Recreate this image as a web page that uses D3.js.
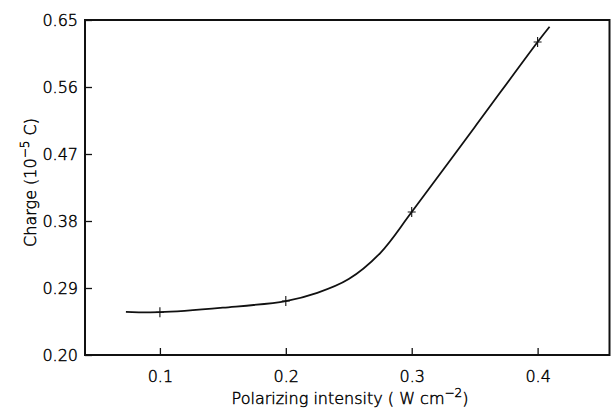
<!DOCTYPE html>
<html>
<head>
<meta charset="utf-8">
<script src="https://cdn.jsdelivr.net/npm/d3@7"></script>
<style>
  body { margin: 0; background: #fff; }
  text { font-family: 'DejaVu Sans', sans-serif; font-weight: 300; fill: #000; stroke: #000; stroke-width: 0.45px; }
</style>
</head>
<body>
<div class="canvas"></div>
<script>
// curve
const curveX = [0.073, 0.1, 0.15, 0.2, 0.225, 0.25, 0.275, 0.3, 0.35, 0.4, 0.4095]
const curveY = [0.258, 0.2575, 0.2636, 0.2725, 0.2835, 0.302, 0.337, 0.392, 0.506, 0.6205, 0.641]
// measured points (crosses)
const pointX = [0.1, 0.2, 0.3, 0.4]
const pointY = [0.2575, 0.2725, 0.392, 0.6205]
const xTicks = [0.1, 0.2, 0.3, 0.4]
const yTicks = [0.20, 0.29, 0.38, 0.47, 0.56, 0.65]

const width = 613
const height = 410
const margin = { top: 20, right: 3, bottom: 55, left: 85 }
const graphWidth = width - margin.left - margin.right
const graphHeight = height - margin.top - margin.bottom

const svg = d3.select('.canvas').append('svg')
  .attr('width', width)
  .attr('height', height)

const graph = svg.append('g')
  .attr('transform', `translate(${margin.left}, ${margin.top})`)

const x = d3.scaleLinear()
  .domain([0.0405, 0.4575])
  .range([0, graphWidth])

const y = d3.scaleLinear()
  .domain([0.20, 0.65])
  .range([graphHeight, 0])

// axes with inward ticks
const xAxis = d3.axisBottom(x)
  .tickValues(xTicks)
  .tickSize(-7)
  .tickPadding(16)
  .tickFormat(d3.format('.1f'))

const yAxis = d3.axisLeft(y)
  .tickValues(yTicks)
  .tickSize(-7)
  .tickPadding(7)
  .tickFormat(d3.format('.2f'))

const xAxisGroup = graph.append('g')
  .attr('transform', `translate(0, ${graphHeight})`)
  .call(xAxis)
const yAxisGroup = graph.append('g').call(yAxis)

;[xAxisGroup, yAxisGroup].forEach(g => {
  g.select('.domain').remove()
  g.selectAll('line').attr('stroke', '#111').attr('stroke-width', 1.3)
  g.selectAll('text')
    .attr('font-size', 16)
    .style('font-family', "'DejaVu Sans', sans-serif")
    .style('font-weight', 300)
    .style('stroke', '#000')
    .style('stroke-width', '0.45px')
})
yAxisGroup.selectAll('text').attr('dy', '0.36em')

// frame
graph.append('rect')
  .attr('width', graphWidth - 0.5)
  .attr('height', graphHeight)
  .attr('fill', 'none')
  .attr('stroke', '#111')
  .attr('stroke-width', 2)

// curve
const line = d3.line()
  .x(d => x(d[0]))
  .y(d => y(d[1]))
  .curve(d3.curveCatmullRom.alpha(0.5))

graph.append('path')
  .datum(d3.zip(curveX, curveY))
  .attr('d', line)
  .attr('fill', 'none')
  .attr('stroke', '#111')
  .attr('stroke-width', 1.8)

// crosses
graph.selectAll('.cross')
  .data(d3.zip(pointX, pointY))
  .enter().append('path')
  .attr('class', 'cross')
  .attr('transform', d => `translate(${x(d[0])}, ${y(d[1])})`)
  .attr('d', 'M-4,0H4M0,-5V5')
  .attr('stroke', '#111')
  .attr('stroke-width', 1.1)

// axis titles
const xt = svg.append('text')
  .attr('x', 350)
  .attr('y', 404)
  .attr('text-anchor', 'middle')
  .attr('font-size', 16)
xt.append('tspan').text('Polarizing intensity ( W cm')
xt.append('tspan').attr('dy', -7).attr('font-size', 12).text('−2')
xt.append('tspan').attr('dy', 7).text(')')

const yt = svg.append('text')
  .attr('transform', `translate(36, ${margin.top + graphHeight / 2 - 5}) rotate(-90)`)
  .attr('text-anchor', 'middle')
  .attr('font-size', 16)
yt.append('tspan').text('Charge (10')
yt.append('tspan').attr('dy', -7).attr('font-size', 12).text('−5')
yt.append('tspan').attr('dy', 7).text(' C)')
</script>
</body>
</html>
